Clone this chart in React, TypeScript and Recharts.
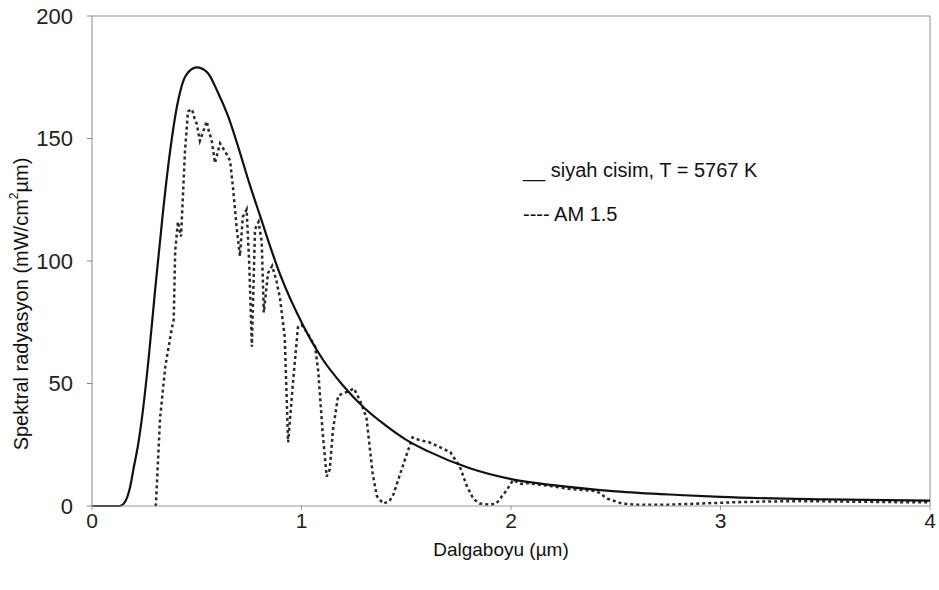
import React from "react";
import { LineChart, Line, XAxis, YAxis, ReferenceLine } from "recharts";

// siyah cisim (blackbody, T = 5767 K)
const bbX = [0, 0.05, 0.1, 0.13, 0.15, 0.18, 0.2, 0.22, 0.24, 0.27, 0.3, 0.34, 0.37, 0.41, 0.45, 0.5, 0.55, 0.6, 0.65, 0.7, 0.75, 0.8, 0.9, 1.0, 1.1, 1.2, 1.3, 1.4, 1.5, 1.6, 1.8, 2.0, 2.2, 2.5, 2.8, 3.0, 3.5, 4.0];
const bbY = [0, 0, 0, 0, 0.8, 7, 16, 25, 37, 60, 87, 121, 143, 165, 176, 179, 177, 169, 159, 146, 132, 119, 94, 75, 60, 49, 40, 33, 27, 22.5, 15.5, 11, 8.5, 6, 4.5, 3.7, 2.7, 2.2];

// AM 1.5 spectrum
const amX = [0.3, 0.305, 0.325, 0.35, 0.38, 0.39, 0.397, 0.41, 0.425, 0.444, 0.458, 0.477, 0.49, 0.5, 0.515, 0.548, 0.56, 0.57, 0.587, 0.611, 0.64, 0.659, 0.673, 0.69, 0.706, 0.72, 0.738, 0.75, 0.763, 0.778, 0.795, 0.81, 0.82, 0.84, 0.86, 0.88, 0.897, 0.92, 0.936, 0.96, 0.983, 1.0, 1.025, 1.045, 1.065, 1.08, 1.1, 1.12, 1.135, 1.15, 1.175, 1.2, 1.23, 1.25, 1.28, 1.31, 1.34, 1.36, 1.39, 1.42, 1.44, 1.455, 1.494, 1.53, 1.56, 1.61, 1.66, 1.71, 1.756, 1.79, 1.82, 1.85, 1.9, 1.93, 1.98, 2.01, 2.05, 2.08, 2.11, 2.2, 2.27, 2.35, 2.41, 2.46, 2.53, 2.6, 2.74, 2.9, 3.06, 3.2, 3.38, 3.6, 3.8, 4.0];
const amY = [0, 0.5, 36, 57, 72, 76, 104, 116, 110, 145, 161, 162, 158, 156, 149, 157, 152, 150, 140, 148, 144, 141, 130, 114, 102, 118, 121, 100, 65, 113, 116, 108, 79, 95, 98, 92, 85, 69, 26, 51, 73, 74, 71, 68, 65, 55, 31, 12, 15, 31, 45, 46, 47, 48, 43, 36, 13, 4, 1, 2, 5, 9, 19, 28, 27, 26, 24, 22, 16, 8, 3, 1, 0.5, 1, 6.5, 10.6, 9, 9.4, 9, 8, 7, 6.5, 6, 3, 1, 0.5, 0.5, 1, 1.5, 1.8, 2, 1.8, 1.6, 1.5];

const xTicks = [0, 1, 2, 3, 4];
const yTicks = [0, 50, 100, 150, 200];

const blackbody = bbX.map((x, i) => ({ x, y: bbY[i] }));
const am15 = amX.map((x, i) => ({ x, y: amY[i] }));

const font = "'Liberation Sans', Arial, sans-serif";

const YTitle = () => (
  <text
    x={21}
    y={304}
    transform="rotate(-90 21 304)"
    textAnchor="middle"
    dominantBaseline="central"
    fontFamily={font}
    fontSize={20}
    fill="#111"
  >
    Spektral radyasyon (mW/cm<tspan baselineShift="super" fontSize={12}>2</tspan>µm)
  </text>
);

export default function App() {
  return (
    <div style={{ position: "relative", width: 939, height: 590, background: "#fff" }}>
      <style>{"body{margin:0}"}</style>
      <LineChart
        width={939}
        height={590}
        margin={{ top: 16, right: 9, left: 0, bottom: 0 }}
      >
        <XAxis
          dataKey="x"
          type="number"
          domain={[0, 4]}
          ticks={xTicks}
          allowDuplicatedCategory={false}
          height={84}
          tickSize={4}
          tickMargin={3}
          stroke="#999"
          tick={{ fill: "#222", fontSize: 21, fontFamily: font }}
          label={{
            value: "Dalgaboyu (µm)",
            position: "insideBottom",
            offset: 34,
            dx: -10,
            fill: "#111",
            fontSize: 19,
            fontFamily: font,
          }}
        />
        <YAxis
          type="number"
          domain={[0, 200]}
          ticks={yTicks}
          width={92}
          tickSize={5}
          tickMargin={14}
          stroke="#888"
          tick={{ fill: "#222", fontSize: 22, fontFamily: font }}
          label={<YTitle />}
        />
        <ReferenceLine y={200} stroke="#b5b5b5" strokeWidth={1.5} />
        <ReferenceLine x={4} stroke="#b5b5b5" strokeWidth={1.5} />
        <Line
          data={am15}
          dataKey="y"
          type="linear"
          stroke="#2a2a2a"
          strokeWidth={2.5}
          strokeDasharray="3 3"
          dot={false}
          isAnimationActive={false}
        />
        <Line
          data={blackbody}
          dataKey="y"
          type="monotone"
          stroke="#111"
          strokeWidth={2.2}
          dot={false}
          isAnimationActive={false}
        />
      </LineChart>
      <div
        style={{
          position: "absolute",
          left: 523,
          top: 148,
          fontFamily: font,
          fontSize: 20,
          color: "#111",
          lineHeight: "44px",
        }}
      >
        <div>__ siyah cisim, T = 5767 K</div>
        <div>---- AM 1.5</div>
      </div>
    </div>
  );
}
